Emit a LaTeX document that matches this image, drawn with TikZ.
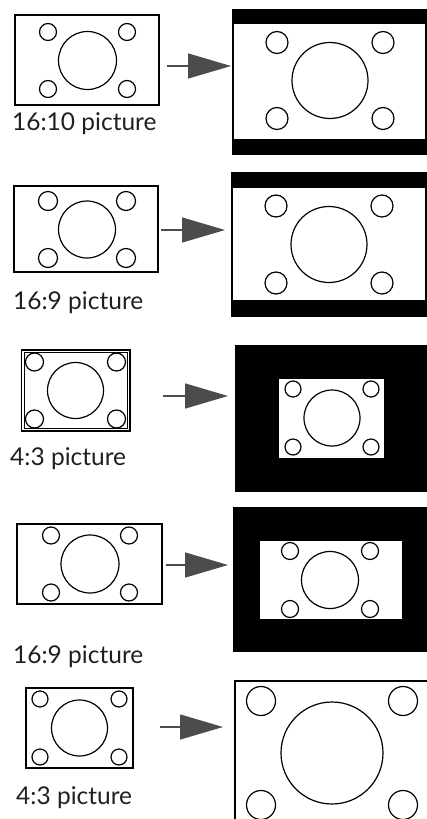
\documentclass[tikz,border=0pt]{standalone}
\usepackage{fontspec}
\setmainfont{Lato}
\usetikzlibrary{arrows.meta}
\definecolor{ink}{HTML}{231F20}
\tikzset{
  frame/.style={draw=black, line width=1.2pt},
  ring/.style={draw=black, line width=1.2pt},
  caption/.style={anchor=base west, inner sep=0pt, text=ink, font=\fontsize{24.5}{28}\selectfont},
  pointer/.style={draw=black!70, line width=1.3pt, -{Triangle[length=43pt,width=25pt,fill=black!70]}},
  bar/.style={fill=black},
}
% cx cy R dx dy r
\newcommand\myface[6]{%
  \draw[ring] (#1,#2) circle (#3pt);
  \draw[ring] (#1-#4,#2-#5) circle (#6pt);
  \draw[ring] (#1+#4,#2-#5) circle (#6pt);
  \draw[ring] (#1-#4,#2+#5) circle (#6pt);
  \draw[ring] (#1+#4,#2+#5) circle (#6pt);
}
\begin{document}
\begin{tikzpicture}[x=1pt,y=-1pt]
\useasboundingbox (0,0) rectangle (427,819);
\clip (0,0) rectangle (427,819);
\fill[white] (0,0) rectangle (427,819);

% ---------- Row 1: 16:10 ----------
\draw[frame] (15,15) rectangle (159,105);
\myface{87.5}{60.5}{29}{39.5}{28.5}{8.5}
\node[caption] (lab1) at (12,130) {16:10 picture};
\fill[bar] (232.4,9) rectangle (426.6,155);
\filldraw[fill=white, frame] (233,23) rectangle (426,140);
\myface{330}{80.5}{38}{53}{38}{11}
\coordinate (s1) at (167,66);
\coordinate (e1) at (231,66);
\draw[pointer] (s1) -- (e1);

% ---------- Row 2: 16:9 ----------
\draw[frame] (14,186) rectangle (158,272);
\myface{87}{229.5}{28.5}{39}{28.5}{9.5}
\node[caption] (lab2) at (13,309) {16:9 picture};
\fill[bar] (231.4,172) rectangle (426.6,317);
\filldraw[fill=white, frame] (232,187) rectangle (426,301);
\myface{329}{244.5}{38}{53}{38.5}{11}
\coordinate (s2) at (161,230);
\coordinate (e2) at (225,230);
\draw[pointer] (s2) -- (e2);

% ---------- Row 3: 4:3 pillarbox ----------
\draw[frame] (21.8,350) rectangle (130,431);
\draw[frame, line width=0.9pt] (24.2,352.4) rectangle (127.6,428.6);
\myface{75.5}{390.5}{28}{41}{28.5}{9}
\node[caption] (lab3) at (10,465) {4:3 picture};
\fill[bar] (235,345) rectangle (427,492);
\fill[white] (279,379) rectangle (384,458);
\myface{332}{418}{28}{39}{29}{8}
\coordinate (s3) at (163,396);
\coordinate (e3) at (228,396);
\draw[pointer] (s3) -- (e3);

% ---------- Row 4: 16:9 windowbox ----------
\draw[frame] (17,524) rectangle (162,604);
\myface{90}{564}{29}{39}{28.5}{8.5}
\node[caption] (lab4) at (13,663) {16:9 picture};
\fill[bar] (233,507) rectangle (427,652);
\fill[white] (260,541) rectangle (402,619);
\myface{330}{580}{28.5}{40}{29}{8.5}
\coordinate (s4) at (166,565);
\coordinate (e4) at (228,565);
\draw[pointer] (s4) -- (e4);

% ---------- Row 5: 4:3 zoom ----------
\draw[frame, line width=1.5pt] (26,688) rectangle (133,768);
\myface{79.5}{728}{28}{39.5}{29}{8}
\node[caption] (lab5) at (16,804) {4:3 picture};
\filldraw[fill=white, frame] (235,681) rectangle (445,845);
\myface{332}{753}{51}{71}{52}{14.5}
\coordinate (s5) at (160,727);
\coordinate (e5) at (223,727);
\draw[pointer] (s5) -- (e5);
\end{tikzpicture}
\end{document}
